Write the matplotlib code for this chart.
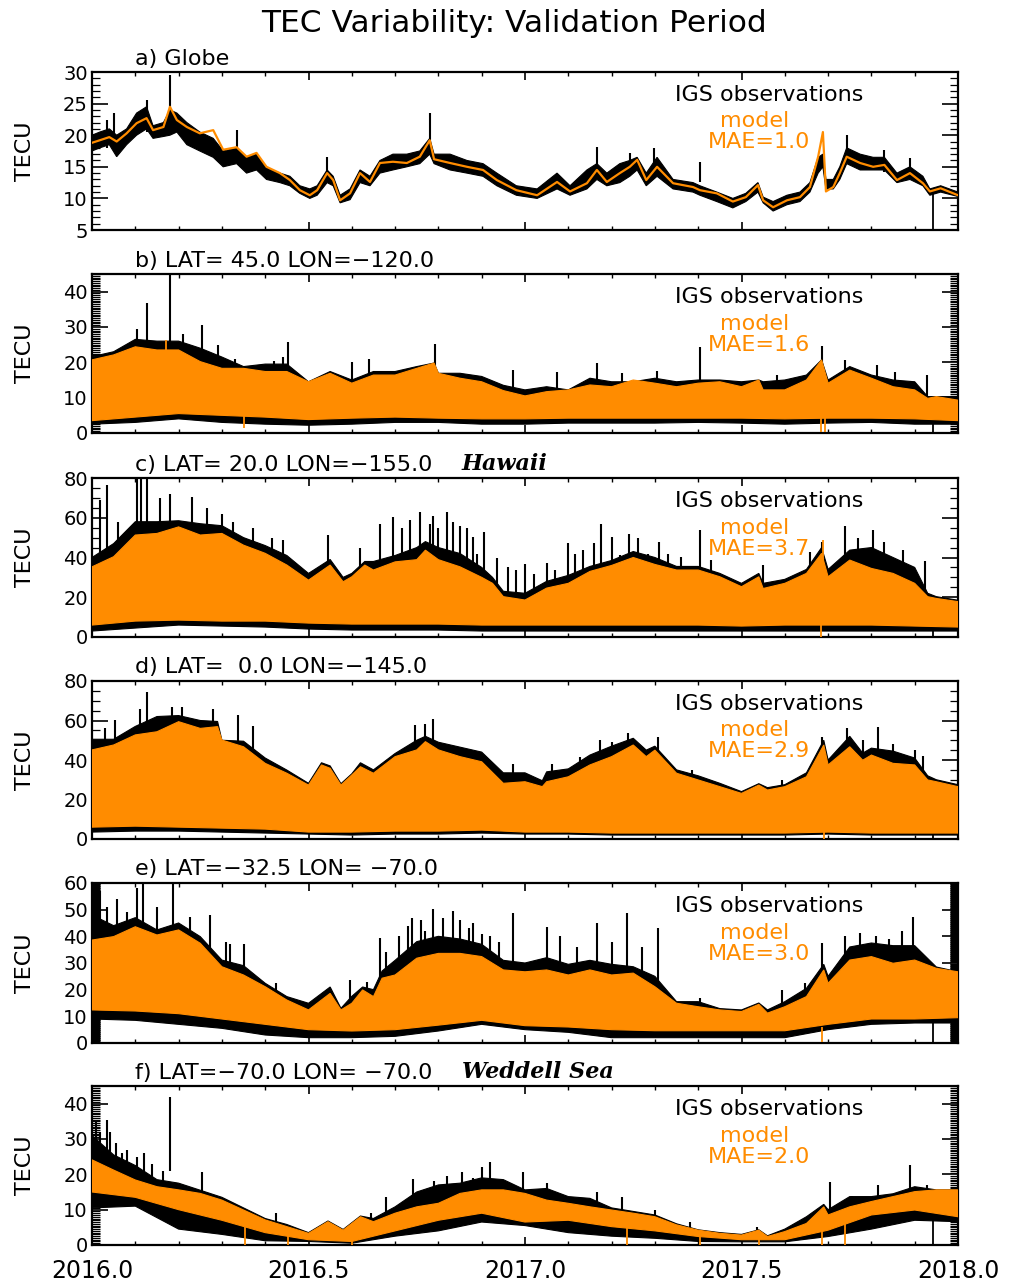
import numpy as np
import matplotlib
matplotlib.use("Agg")
import matplotlib.pyplot as plt
from matplotlib.ticker import MultipleLocator
import matplotlib.transforms as mtransforms

plt.rcParams['font.family'] = ['DejaVu Sans']

ORANGE = '#FF8C00'
W, H = 1013, 1285

TITLE = 'TEC Variability: Validation Period'
XTICK_LABELS = ['2016.0', '2016.5', '2017.0', '2017.5', '2018.0']

# ---------------- panel a: Globe (line plot) ----------------
t_a = [2016.000, 2016.018, 2016.040, 2016.057, 2016.080, 2016.103, 2016.126, 2016.141, 2016.165, 2016.180,
       2016.196, 2016.219, 2016.249, 2016.280, 2016.303, 2016.334, 2016.357, 2016.380, 2016.403, 2016.434,
       2016.457, 2016.480, 2016.503, 2016.520, 2016.543, 2016.557, 2016.573, 2016.596, 2016.619, 2016.642,
       2016.665, 2016.695, 2016.727, 2016.757, 2016.780, 2016.790, 2016.827, 2016.866, 2016.903, 2016.935,
       2016.980, 2017.028, 2017.074, 2017.104, 2017.143, 2017.166, 2017.189, 2017.219, 2017.242, 2017.259,
       2017.280, 2017.305, 2017.342, 2017.388, 2017.404, 2017.443, 2017.480, 2017.510, 2017.538, 2017.550,
       2017.573, 2017.605, 2017.635, 2017.658, 2017.677, 2017.688, 2017.695, 2017.712, 2017.727, 2017.743,
       2017.774, 2017.804, 2017.830, 2017.859, 2017.889, 2017.919, 2017.935, 2017.960, 2018.000]
model_a = [18.8, 19.2, 19.7, 19.0, 20.3, 21.9, 22.7, 20.8, 21.3, 24.5,
           22.4, 21.3, 20.3, 20.8, 17.7, 18.1, 16.6, 17.2, 15.0, 14.0,
           12.9, 11.3, 10.5, 11.3, 14.0, 12.9, 9.7, 10.8, 14.0, 12.6,
           15.6, 15.8, 15.6, 16.6, 19.2, 16.2, 15.6, 15.0, 14.5, 12.9,
           11.3, 10.5, 12.6, 11.1, 12.4, 14.5, 12.6, 14.0, 15.0, 16.1,
           12.9, 15.0, 12.4, 11.8, 11.3, 10.8, 9.5, 10.2, 12.1, 9.7,
           8.6, 9.7, 10.2, 11.8, 16.6, 20.5, 11.1, 11.8, 14.0, 16.6,
           15.6, 15.0, 15.3, 12.9, 14.0, 12.4, 11.1, 11.6, 10.5]
obs_lo_a = [17.5, 18.0, 18.5, 16.6, 18.5, 20.0, 21.0, 19.5, 19.8, 20.0,
            20.5, 18.5, 17.5, 16.5, 15.0, 15.5, 14.0, 14.5, 13.0, 12.5,
            12.0, 10.8, 10.0, 10.5, 12.5, 12.0, 9.3, 9.8, 12.5, 12.0,
            14.0, 14.5, 15.0, 15.5, 17.0, 15.5, 14.5, 14.0, 13.5, 12.0,
            10.5, 10.0, 11.5, 10.5, 11.5, 13.0, 12.0, 12.5, 13.5, 14.5,
            12.0, 13.5, 11.5, 11.0, 10.5, 9.5, 8.5, 9.5, 11.0, 9.3,
            8.0, 9.0, 9.5, 11.0, 14.0, 15.0, 11.5, 11.5, 13.0, 15.5,
            14.5, 14.5, 14.5, 12.5, 13.0, 12.0, 10.5, 11.0, 10.3]
obs_hi_a = [20.0, 20.5, 21.0, 20.0, 21.0, 23.5, 24.5, 21.5, 22.0, 24.0,
            23.5, 22.0, 20.5, 19.5, 17.5, 18.0, 16.5, 17.0, 14.8, 14.0,
            13.5, 12.0, 11.5, 12.0, 14.5, 13.5, 10.5, 11.5, 14.5, 13.5,
            16.0, 17.0, 17.0, 17.5, 19.5, 17.0, 17.0, 16.0, 15.5, 14.0,
            12.0, 11.5, 14.0, 12.0, 14.5, 15.5, 14.0, 15.5, 16.0, 16.5,
            14.0, 16.5, 13.0, 12.5, 12.0, 11.0, 10.0, 10.8, 12.5, 10.2,
            9.5, 10.5, 11.0, 12.5, 16.5, 17.0, 13.0, 13.0, 15.0, 18.0,
            17.0, 16.5, 16.5, 14.0, 15.0, 13.5, 11.5, 12.0, 11.0]
sp_a_t = [2016.034, 2016.050, 2016.126, 2016.180, 2016.334, 2016.543, 2016.780,
          2017.166, 2017.242, 2017.297, 2017.404, 2017.743, 2017.830, 2017.889]
sp_a_v = [22.4, 23.5, 25.6, 29.5, 20.8, 16.6, 23.5, 18.2, 17.2, 17.9, 15.8, 20.0, 17.7, 16.4]

# data gap (observations drop out)
gap_t = 2017.942

# common time grid of the lower envelopes (panels b-f)
T_LO = [2016.0, 2016.1, 2016.2, 2016.3, 2016.4, 2016.5, 2016.6, 2016.7, 2016.8, 2016.9, 2017.0,
        2017.1, 2017.2, 2017.3, 2017.4, 2017.5, 2017.6, 2017.7, 2017.8, 2017.9, 2018.0]

# ---------------- panel b ----------------
t_b = [2016.00, 2016.05, 2016.10, 2016.15, 2016.20, 2016.25, 2016.30, 2016.35, 2016.40, 2016.45,
       2016.50, 2016.55, 2016.60, 2016.65, 2016.70, 2016.75, 2016.79, 2016.80, 2016.85, 2016.90,
       2016.95, 2017.00, 2017.05, 2017.10, 2017.15, 2017.20, 2017.25, 2017.30, 2017.35, 2017.40,
       2017.45, 2017.50, 2017.54, 2017.55, 2017.60, 2017.65, 2017.685, 2017.70, 2017.75, 2017.80,
       2017.85, 2017.90, 2017.93, 2017.95, 2018.00]
m_hi_b = [20.7, 22.1, 24.4, 23.5, 23.5, 20.2, 18.3, 18.3, 17.4, 17.4,
          14.5, 16.9, 14.1, 16.4, 16.4, 18.3, 19.8, 16.9, 15.5, 14.5,
          12.0, 10.5, 11.7, 12.2, 13.6, 13.1, 15.0, 14.1, 13.1, 14.1,
          14.5, 13.1, 15.0, 12.2, 12.2, 15.0, 20.7, 14.1, 17.8, 15.5,
          13.1, 12.2, 9.8, 10.3, 9.3]
o_hi_b = [21.6, 23.0, 26.5, 26.0, 26.0, 24.0, 21.5, 18.8, 19.5, 19.5,
          14.5, 17.4, 15.0, 17.4, 17.4, 18.8, 19.8, 16.9, 16.9, 16.0,
          13.5, 12.2, 13.1, 12.2, 15.5, 14.5, 14.5, 15.5, 14.5, 15.0,
          15.0, 14.5, 15.0, 14.5, 15.0, 16.4, 20.7, 15.0, 18.8, 16.4,
          15.0, 14.5, 10.3, 10.3, 10.3]
m_lo_b = [3.5, 4.5, 5.5, 5.0, 4.5, 3.8, 4.2, 4.5, 4.2, 4.0, 4.0, 4.2, 4.2, 4.2, 4.2, 4.2, 4.0, 4.2, 4.2, 4.0, 3.5]
o_lo_b = [2.5, 3.0, 4.0, 3.0, 2.5, 2.2, 2.5, 3.0, 3.0, 2.5, 2.5, 2.8, 2.8, 2.8, 3.0, 2.8, 2.5, 2.8, 3.0, 2.5, 2.5]
sp_b_t = [2016.103, 2016.126, 2016.180, 2016.210, 2016.253, 2016.291, 2016.330, 2016.420, 2016.440, 2016.453,
          2016.600, 2016.640, 2016.792, 2016.972, 2017.073, 2017.166, 2017.223, 2017.304, 2017.404, 2017.581,
          2017.685, 2017.739, 2017.812, 2017.855, 2017.928]
sp_b_v = [29.5, 36.7, 45.0, 28.0, 30.6, 24.9, 21.0, 20.5, 21.5, 25.8,
          20.0, 21.0, 25.2, 17.8, 17.4, 19.8, 16.9, 17.5, 24.3, 16.4,
          24.6, 20.7, 19.3, 17.3, 16.4]
mu_b_t = [2016.170]
mu_b_v = [26.3]
md_b_t = [2016.350, 2017.683, 2017.692]
md_b_v = [1.4, 0.3, 0.3]
md_b_top = [5.0, 5.0, 5.0]

# ---------------- panel c (Hawaii) ----------------
t_c = [2016.00, 2016.05, 2016.10, 2016.15, 2016.20, 2016.25, 2016.30, 2016.35, 2016.40, 2016.45,
       2016.50, 2016.55, 2016.58, 2016.60, 2016.63, 2016.65, 2016.70, 2016.75, 2016.77, 2016.80,
       2016.85, 2016.90, 2016.925, 2016.95, 2017.00, 2017.05, 2017.10, 2017.15, 2017.20, 2017.25,
       2017.30, 2017.35, 2017.40, 2017.45, 2017.50, 2017.54, 2017.55, 2017.60, 2017.65, 2017.685,
       2017.70, 2017.75, 2017.80, 2017.85, 2017.90, 2017.93, 2017.95, 2018.00]
m_hi_c = [35.3, 40.4, 51.3, 52.1, 55.4, 51.3, 52.1, 46.2, 42.1, 36.2,
          28.6, 36.2, 27.8, 30.3, 36.2, 33.7, 37.8, 38.9, 43.7, 38.9,
          35.3, 30.0, 27.0, 20.3, 18.6, 24.6, 27.0, 33.0, 36.0, 40.0,
          36.5, 33.7, 33.7, 30.3, 25.3, 30.3, 24.4, 27.0, 32.0, 42.1,
          30.3, 38.7, 34.5, 32.0, 27.0, 20.3, 19.4, 17.8]
o_hi_c = [40.0, 47.0, 58.0, 58.0, 58.5, 57.0, 56.0, 50.0, 46.0, 41.0,
          32.0, 39.0, 30.0, 32.0, 38.0, 38.0, 41.0, 45.0, 48.0, 45.0,
          42.0, 35.0, 30.0, 23.0, 22.0, 28.0, 31.0, 35.5, 38.5, 43.0,
          40.0, 35.5, 35.5, 32.0, 27.0, 32.0, 27.0, 29.0, 34.0, 45.0,
          34.0, 43.7, 45.0, 40.0, 35.0, 22.0, 20.3, 18.5]
m_lo_c = [6.0, 8.0, 8.5, 8.0, 8.0, 7.0, 6.5, 6.5, 6.5, 6.0, 6.0, 6.0, 6.0, 6.0, 6.0, 5.5, 6.0, 6.0, 6.0, 5.5, 5.0]
o_lo_c = [3.0, 4.5, 6.0, 5.5, 5.0, 4.0, 3.5, 3.5, 3.5, 3.0, 3.0, 3.0, 3.0, 3.0, 3.0, 3.0, 3.0, 3.0, 3.0, 3.0, 3.0]
sp_c_t = [2016.018, 2016.034, 2016.060, 2016.103, 2016.114, 2016.127, 2016.157, 2016.180, 2016.230, 2016.265,
          2016.300, 2016.326, 2016.372, 2016.415, 2016.441, 2016.545, 2016.619, 2016.665, 2016.695, 2016.715,
          2016.734, 2016.757, 2016.780, 2016.788, 2016.800, 2016.819, 2016.834, 2016.850, 2016.865, 2016.880,
          2016.890, 2016.905, 2016.935, 2016.960, 2016.980, 2017.000, 2017.020, 2017.050, 2017.070, 2017.100,
          2017.115, 2017.135, 2017.160, 2017.175, 2017.200, 2017.220, 2017.240, 2017.260, 2017.285, 2017.310,
          2017.330, 2017.360, 2017.404, 2017.430, 2017.550, 2017.658, 2017.685, 2017.739, 2017.770, 2017.804,
          2017.830, 2017.873, 2017.924]
sp_c_v = [69.0, 76.4, 58.0, 80.0, 80.0, 80.0, 70.0, 72.2, 70.6, 65.0,
          62.0, 58.0, 55.0, 50.0, 49.0, 51.3, 45.0, 57.0, 60.3, 55.0,
          59.0, 63.0, 57.0, 61.0, 55.0, 63.0, 58.0, 56.0, 55.0, 50.4,
          42.0, 52.9, 39.7, 35.3, 33.7, 36.5, 31.5, 37.2, 33.7, 47.1,
          42.0, 43.6, 47.1, 57.0, 50.4, 41.2, 52.0, 49.6, 42.0, 47.9,
          42.0, 40.2, 53.8, 38.5, 36.0, 43.0, 48.0, 56.1, 50.0, 53.6,
          48.0, 43.7, 38.0]
mu_c_t = [2017.688]
mu_c_v = [49.0]
md_c_t = [2017.683]
md_c_v = [0.0]
md_c_top = [8.0]

# ---------------- panel d ----------------
t_d = [2016.00, 2016.05, 2016.10, 2016.15, 2016.20, 2016.25, 2016.29, 2016.30, 2016.35, 2016.40,
       2016.45, 2016.50, 2016.53, 2016.55, 2016.575, 2016.60, 2016.62, 2016.65, 2016.70, 2016.75,
       2016.77, 2016.80, 2016.85, 2016.90, 2016.95, 2017.00, 2017.04, 2017.05, 2017.10, 2017.15,
       2017.20, 2017.25, 2017.28, 2017.30, 2017.35, 2017.40, 2017.45, 2017.50, 2017.54, 2017.56,
       2017.60, 2017.65, 2017.69, 2017.70, 2017.75, 2017.78, 2017.80, 2017.85, 2017.90, 2017.93,
       2017.95, 2018.00]
m_hi_d = [45.1, 47.6, 52.7, 54.3, 59.4, 56.0, 56.9, 50.1, 46.7, 38.3,
          33.3, 27.3, 37.5, 35.8, 27.3, 32.4, 36.6, 33.3, 41.7, 45.1,
          49.3, 45.1, 41.7, 39.1, 28.2, 29.0, 26.5, 29.0, 31.5, 37.5,
          41.7, 47.6, 41.7, 45.0, 33.3, 29.9, 26.5, 23.1, 27.3, 24.8,
          26.5, 31.5, 47.6, 37.5, 46.7, 39.9, 42.5, 38.3, 37.5, 29.9,
          29.0, 26.5]
o_hi_d = [50.5, 50.5, 57.0, 62.0, 62.5, 60.0, 59.5, 50.0, 49.5, 41.0,
          34.9, 28.2, 38.6, 37.0, 28.0, 33.0, 38.6, 35.0, 43.3, 50.0,
          52.0, 49.0, 46.5, 44.0, 33.5, 33.5, 29.5, 34.0, 35.5, 42.5,
          47.0, 51.0, 45.0, 47.0, 35.0, 32.0, 28.2, 24.0, 28.0, 26.0,
          27.5, 33.5, 50.0, 40.0, 52.0, 43.5, 46.0, 44.5, 41.0, 32.0,
          30.0, 27.5]
m_lo_d = [6.0, 6.5, 6.0, 5.5, 5.0, 3.5, 3.5, 4.0, 4.0, 4.5, 3.5, 3.5, 3.0, 3.0, 3.0, 3.0, 3.0, 3.5, 3.0, 3.0, 3.0]
o_lo_d = [3.5, 4.0, 4.0, 3.5, 3.0, 2.5, 2.0, 2.5, 2.5, 3.0, 2.5, 2.5, 2.0, 2.0, 2.0, 2.0, 2.0, 2.5, 2.0, 2.0, 2.0]
sp_d_t = [2016.030, 2016.053, 2016.110, 2016.126, 2016.184, 2016.207, 2016.280, 2016.338, 2016.372, 2016.746,
          2016.770, 2016.788, 2016.972, 2017.062, 2017.127, 2017.173, 2017.200, 2017.239, 2017.307, 2017.385,
          2017.593, 2017.685, 2017.743, 2017.780, 2017.816, 2017.850, 2017.900, 2017.920]
sp_d_v = [56.0, 60.3, 66.0, 74.6, 67.0, 67.0, 66.0, 63.0, 57.0, 57.7,
          58.0, 60.8, 38.0, 38.0, 41.7, 50.0, 49.0, 53.5, 51.8, 35.0,
          30.0, 51.8, 56.0, 50.0, 56.9, 48.0, 45.0, 42.0]
mu_d_t = []
mu_d_v = []
md_d_t = [2017.690]
md_d_v = [0.0]
md_d_top = [5.0]

# ---------------- panel e ----------------
t_e = [2016.00, 2016.05, 2016.10, 2016.15, 2016.20, 2016.25, 2016.30, 2016.35, 2016.40, 2016.45,
       2016.50, 2016.55, 2016.575, 2016.60, 2016.625, 2016.65, 2016.67, 2016.70, 2016.75, 2016.80,
       2016.85, 2016.90, 2016.95, 2017.00, 2017.05, 2017.10, 2017.15, 2017.20, 2017.25, 2017.30,
       2017.35, 2017.40, 2017.45, 2017.50, 2017.54, 2017.56, 2017.60, 2017.65, 2017.69, 2017.70,
       2017.75, 2017.80, 2017.85, 2017.90, 2017.95, 2018.00]
m_hi_e = [38.6, 39.9, 43.6, 40.5, 42.4, 37.4, 28.6, 25.5, 21.1, 16.1,
          12.4, 18.6, 12.4, 14.9, 19.9, 17.4, 24.3, 25.5, 31.8, 33.6,
          33.6, 32.4, 27.4, 26.7, 27.4, 25.5, 27.4, 25.5, 26.2, 21.1,
          14.9, 13.6, 12.4, 11.8, 14.5, 11.2, 13.6, 17.4, 27.4, 22.4,
          31.1, 32.4, 29.9, 31.1, 28.0, 26.7]
o_hi_e = [48.0, 44.0, 47.0, 42.4, 45.0, 39.9, 31.1, 29.0, 22.4, 17.4,
          14.9, 21.0, 13.0, 17.5, 21.0, 20.0, 27.0, 31.0, 38.0, 40.0,
          39.0, 37.0, 31.0, 30.0, 32.0, 29.5, 31.0, 29.5, 28.6, 25.0,
          15.5, 15.5, 12.9, 12.4, 15.0, 12.4, 15.5, 20.5, 29.5, 25.0,
          36.0, 37.5, 36.5, 36.5, 28.5, 26.7]
m_lo_e = [12.4, 12.0, 11.0, 9.0, 7.0, 5.0, 4.5, 5.0, 6.7, 8.5, 6.5, 6.0, 5.0, 4.6, 4.6, 4.6, 4.6, 7.0, 9.0, 9.0, 9.5]
o_lo_e = [9.0, 8.5, 7.0, 5.5, 3.0, 2.0, 2.0, 2.5, 4.5, 7.0, 5.0, 4.0, 2.0, 2.0, 2.0, 2.0, 2.0, 5.0, 7.0, 7.5, 7.5]
sp_e_t = [2016.007, 2016.018, 2016.034, 2016.057, 2016.080, 2016.103, 2016.118, 2016.150, 2016.188, 2016.226,
          2016.272, 2016.310, 2016.319, 2016.350, 2016.426, 2016.596, 2016.635, 2016.665, 2016.680, 2016.710,
          2016.730, 2016.740, 2016.760, 2016.770, 2016.788, 2016.810, 2016.834, 2016.850, 2016.870, 2016.880,
          2016.900, 2016.920, 2016.940, 2016.972, 2017.050, 2017.080, 2017.120, 2017.166, 2017.200, 2017.235,
          2017.270, 2017.307, 2017.404, 2017.593, 2017.646, 2017.685, 2017.740, 2017.774, 2017.810, 2017.840,
          2017.870, 2017.897]
sp_e_v = [60.0, 57.0, 51.0, 54.0, 49.0, 58.0, 60.0, 51.0, 60.0, 47.4,
          48.0, 38.0, 37.0, 37.0, 22.4, 23.6, 23.0, 39.3, 34.0, 40.0,
          44.0, 47.0, 46.0, 42.0, 50.2, 47.0, 49.4, 46.0, 43.0, 45.0,
          41.0, 40.0, 38.0, 48.7, 43.6, 40.0, 36.0, 44.9, 38.0, 48.7,
          36.0, 43.0, 17.0, 20.0, 22.4, 37.4, 40.0, 41.1, 40.0, 39.0,
          42.0, 47.4]
mu_e_t = []
mu_e_v = []
md_e_t = [2017.685]
md_e_v = [0.5]
md_e_top = [6.0]

# ---------------- panel f (Weddell Sea) ----------------
t_f = [2016.00, 2016.05, 2016.10, 2016.15, 2016.20, 2016.25, 2016.30, 2016.35, 2016.40, 2016.45,
       2016.50, 2016.545, 2016.58, 2016.60, 2016.62, 2016.65, 2016.70, 2016.75, 2016.80, 2016.85,
       2016.90, 2016.95, 2017.00, 2017.05, 2017.10, 2017.15, 2017.20, 2017.25, 2017.30, 2017.35,
       2017.40, 2017.45, 2017.50, 2017.54, 2017.56, 2017.60, 2017.65, 2017.69, 2017.70, 2017.75,
       2017.80, 2017.85, 2017.90, 2017.95, 2018.00]
m_hi_f = [24.1, 21.2, 18.4, 16.5, 15.6, 14.6, 12.7, 9.9, 7.1, 5.2,
          3.3, 6.6, 4.2, 6.1, 8.0, 6.6, 9.0, 10.8, 11.8, 14.6,
          15.6, 15.6, 14.6, 12.7, 11.8, 10.8, 9.9, 9.0, 8.0, 5.7,
          4.2, 3.3, 2.8, 4.2, 2.4, 3.8, 6.1, 10.8, 8.5, 10.8,
          12.3, 13.7, 15.1, 15.6, 15.6]
o_hi_f = [31.0, 25.5, 22.5, 18.5, 17.5, 15.5, 13.5, 10.5, 7.5, 5.8,
          3.5, 6.8, 4.4, 6.3, 8.2, 7.5, 10.8, 15.0, 17.0, 17.5,
          19.0, 18.5, 15.6, 16.0, 13.7, 13.2, 10.5, 9.5, 8.5, 6.0,
          4.3, 3.5, 3.0, 4.3, 2.6, 4.5, 8.0, 11.5, 10.0, 13.7,
          13.7, 14.5, 16.5, 15.6, 15.6]
m_lo_f = [15.0, 13.5, 10.0, 7.0, 3.5, 1.5, 1.0, 4.0, 7.0, 9.0, 6.5, 7.0, 5.2, 4.0, 2.4, 1.5, 1.5, 4.2, 8.5, 9.9, 8.0]
o_lo_f = [10.5, 11.0, 4.5, 3.0, 1.2, 1.0, 0.5, 2.5, 4.0, 6.5, 5.5, 3.5, 2.5, 1.9, 1.0, 0.9, 0.9, 2.4, 4.5, 7.0, 6.6]
sp_f_t = [2016.010, 2016.018, 2016.034, 2016.042, 2016.055, 2016.070, 2016.080, 2016.103, 2016.120, 2016.138,
          2016.165, 2016.180, 2016.253, 2016.270, 2016.426, 2016.645, 2016.680, 2016.742, 2016.790, 2016.820,
          2016.854, 2016.880, 2016.900, 2016.919, 2016.996, 2017.050, 2017.166, 2017.223, 2017.300, 2017.380,
          2017.535, 2017.704, 2017.755, 2017.816, 2017.889, 2017.928]
sp_f_v = [35.0, 32.0, 35.3, 32.0, 29.0, 26.0, 27.0, 25.0, 26.0, 23.0,
          21.0, 42.0, 20.7, 14.5, 9.0, 9.0, 13.7, 18.7, 18.0, 19.5,
          20.7, 19.0, 22.0, 23.6, 20.7, 17.5, 15.0, 13.7, 10.0, 6.5,
          5.0, 17.9, 14.0, 17.0, 22.6, 17.0]
mu_f_t = []
mu_f_v = []
md_f_t = [2016.353, 2016.453, 2016.600, 2017.235, 2017.405, 2017.540, 2017.685, 2017.740]
md_f_v = [0.0, 0.0, 0.0, 0.0, 0.0, 0.0, 0.0, 0.0]
md_f_top = [5.0, 3.0, 2.0, 5.0, 2.5, 2.0, 5.0, 6.0]

# ---------------- panel definitions ----------------
panels = [
    dict(top=72, bot=230, ylim=(5, 30), major=5, minor=1.0, label='a) Globe', extra=None,
         mae='MAE=1.0', gap_top=11.0),
    dict(top=274, bot=433, ylim=(0, 45), major=10, minor=0.5,
         label='b) LAT= 45.0 LON=\u2212120.0', extra=None, mae='MAE=1.6',
         t=t_b, m_hi=m_hi_b, o_hi=o_hi_b, m_lo=m_lo_b, o_lo=o_lo_b, sp_t=sp_b_t, sp_v=sp_b_v,
         mu_t=mu_b_t, mu_v=mu_b_v, md_t=md_b_t, md_v=md_b_v, md_top=md_b_top, gap_top=10.0),
    dict(top=478, bot=637, ylim=(0, 80), major=20, minor=5,
         label='c) LAT= 20.0 LON=\u2212155.0', extra='Hawaii', mae='MAE=3.7',
         t=t_c, m_hi=m_hi_c, o_hi=o_hi_c, m_lo=m_lo_c, o_lo=o_lo_c, sp_t=sp_c_t, sp_v=sp_c_v,
         mu_t=mu_c_t, mu_v=mu_c_v, md_t=md_c_t, md_v=md_c_v, md_top=md_c_top, gap_top=20.0),
    dict(top=681, bot=839, ylim=(0, 80), major=20, minor=5,
         label='d) LAT=  0.0 LON=\u2212145.0', extra=None, mae='MAE=2.9',
         t=t_d, m_hi=m_hi_d, o_hi=o_hi_d, m_lo=m_lo_d, o_lo=o_lo_d, sp_t=sp_d_t, sp_v=sp_d_v,
         mu_t=mu_d_t, mu_v=mu_d_v, md_t=md_d_t, md_v=md_d_v, md_top=md_d_top, gap_top=31.0),
    dict(top=883, bot=1043, ylim=(0, 60), major=10, minor=0.25,
         label='e) LAT=\u221232.5 LON= \u221270.0', extra=None, mae='MAE=3.0',
         t=t_e, m_hi=m_hi_e, o_hi=o_hi_e, m_lo=m_lo_e, o_lo=o_lo_e, sp_t=sp_e_t, sp_v=sp_e_v,
         mu_t=mu_e_t, mu_v=mu_e_v, md_t=md_e_t, md_v=md_e_v, md_top=md_e_top, gap_top=21.0),
    dict(top=1086, bot=1245, ylim=(0, 45), major=10, minor=0.5,
         label='f) LAT=\u221270.0 LON= \u221270.0', extra='Weddell Sea', mae='MAE=2.0',
         t=t_f, m_hi=m_hi_f, o_hi=o_hi_f, m_lo=m_lo_f, o_lo=o_lo_f, sp_t=sp_f_t, sp_v=sp_f_v,
         mu_t=mu_f_t, mu_v=mu_f_v, md_t=md_f_t, md_v=md_f_v, md_top=md_f_top, gap_top=15.0),
]

fig = plt.figure(figsize=(W / 100, H / 100), dpi=100)
LEFT, RIGHT = 92, 958

fig.text(514 / W, 1 - 32 / H, TITLE, ha='center', va='baseline', fontsize=22.5)

for i, p in enumerate(panels):
    ax = fig.add_axes([LEFT / W, 1 - p['bot'] / H, (RIGHT - LEFT) / W, (p['bot'] - p['top']) / H])
    ylo, yhi = p['ylim']

    if i == 0:
        xs = list(t_a) + list(t_a[::-1])
        ys = list(obs_hi_a) + list(obs_lo_a[::-1])
        ax.fill(xs, ys, color='black', lw=0.8, zorder=2)
        ax.vlines(sp_a_t, [0.8 * v for v in sp_a_v], sp_a_v, color='black', lw=1.5, zorder=2)
        ax.vlines([gap_t], ylo, p['gap_top'], color='black', lw=1.3, zorder=2)
        ax.plot(t_a, model_a, color=ORANGE, lw=1.6, zorder=3)
    else:
        xs = list(p['t']) + list(T_LO[::-1])
        ax.fill(xs, list(p['o_hi']) + list(p['o_lo'][::-1]), color='black', lw=0.8, zorder=2)
        ax.vlines(p['sp_t'], [0.5 * v for v in p['sp_v']], p['sp_v'], color='black', lw=1.5, zorder=2)
        ax.vlines([gap_t], ylo, p['gap_top'], color='black', lw=1.3, zorder=2)
        ax.fill(xs, list(p['m_hi']) + list(p['m_lo'][::-1]), color=ORANGE, lw=0.8, zorder=3)
        if p['mu_t']:
            ax.vlines(p['mu_t'], [0.5 * v for v in p['mu_v']], p['mu_v'], color=ORANGE, lw=1.3, zorder=3)
        if p['md_t']:
            ax.vlines(p['md_t'], p['md_v'], p['md_top'], color=ORANGE, lw=1.3, zorder=3)

    ax.set_xlim(2016.0, 2018.0)
    ax.set_ylim(ylo, yhi)
    ax.xaxis.set_major_locator(MultipleLocator(0.5))
    ax.xaxis.set_minor_locator(MultipleLocator(0.1))
    ax.yaxis.set_major_locator(MultipleLocator(p['major']))
    ax.yaxis.set_minor_locator(MultipleLocator(p['minor']))
    ax.tick_params(axis='both', which='both', direction='in', top=True, right=True)
    ax.tick_params(axis='y', which='major', length=11.5, width=1.2, labelsize=14, pad=3)
    ax.tick_params(axis='y', which='minor', length=5.8, width=0.9)
    ax.tick_params(axis='x', which='major', length=5.8, width=1.2, labelsize=17, pad=10)
    ax.tick_params(axis='x', which='minor', length=2.9, width=1.0)
    for s in ax.spines.values():
        s.set_linewidth(1.6)
    if i == len(panels) - 1:
        ax.set_xticks([2016.0, 2016.5, 2017.0, 2017.5, 2018.0])
        ax.set_xticklabels(XTICK_LABELS)
    else:
        ax.tick_params(axis='x', labelbottom=False)

    # panel label
    tr = mtransforms.offset_copy(ax.transAxes, fig=fig, x=0, y=7.5, units='dots')
    ax.text((135 - LEFT) / (RIGHT - LEFT), 1.0, p['label'], transform=tr, ha='left', va='baseline',
            fontsize=16)
    if p['extra']:
        ax.text((462 - LEFT) / (RIGHT - LEFT), 1.0, p['extra'], transform=tr, ha='left', va='baseline',
                fontsize=16, family='DejaVu Serif', style='italic', weight='bold')

    # legend-like annotations
    ax.text((769 - LEFT) / (RIGHT - LEFT), 0.854, 'IGS observations', transform=ax.transAxes,
            ha='center', va='center', fontsize=16, color='black', zorder=5)
    ax.text((755 - LEFT) / (RIGHT - LEFT), 0.687, 'model', transform=ax.transAxes,
            ha='center', va='center', fontsize=16, color=ORANGE, zorder=5)
    ax.text((759 - LEFT) / (RIGHT - LEFT), 0.554, p['mae'], transform=ax.transAxes,
            ha='center', va='center', fontsize=16, color=ORANGE, zorder=5)

    # y label
    fig.text(25 / W, 1 - (p['top'] + p['bot']) / 2 / H, 'TECU', rotation=90, ha='center', va='center',
             fontsize=16)

fig.savefig('out.png', dpi=100)
